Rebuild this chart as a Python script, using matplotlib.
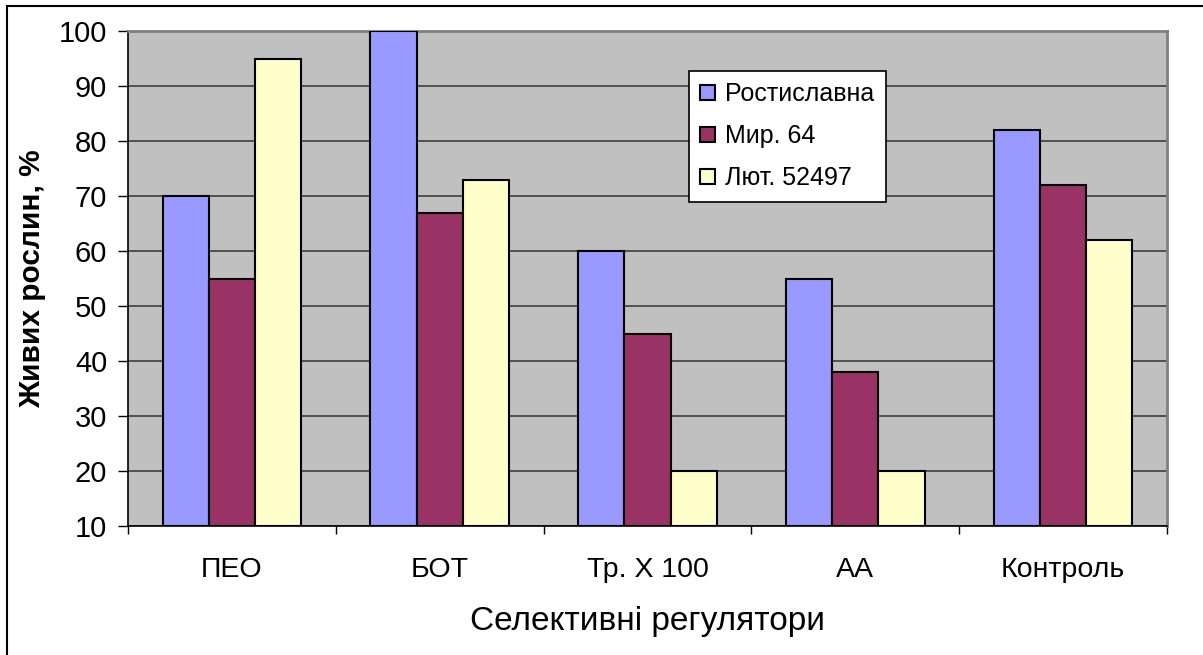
import numpy as np
import matplotlib
matplotlib.use('Agg')
from matplotlib import pyplot as plt
from matplotlib.patches import Rectangle

plt.rcParams['font.family'] = ['Liberation Sans', 'DejaVu Sans']

categories = ['ПЕО', 'БОТ', 'Тр. X 100', 'АА', 'Контроль']
series_names = ['Ростиславна', 'Мир. 64', 'Лют. 52497']
rostyslavna = [70, 100, 60, 55, 82]
myr64 = [55, 67, 45, 38, 72]
liut52497 = [95, 73, 20, 20, 62]
colors = ['#9999FF', '#993366', '#FFFFCC']

W, H = 1203, 655
fig = plt.figure(figsize=(W / 100, H / 100), dpi=100)
# рамка області діаграми
fig.patches.append(Rectangle((7 / W, -0.1), 1.2, 1 - 6 / H + 0.1, transform=fig.transFigure,
                             fill=False, edgecolor='black', linewidth=1.5))

ax = fig.add_axes([128 / W, 1 - 526 / H, (1167 - 128) / W, (526 - 31) / H])
ax.set_facecolor('#C0C0C0')

x = np.arange(len(categories))
w = 1 / 4.5
for i, vals in enumerate([rostyslavna, myr64, liut52497]):
    ax.bar(x + (i - 1) * w, np.array(vals) - 10, bottom=10, width=w, color=colors[i],
           edgecolor='black', linewidth=1.5, label=series_names[i], zorder=3)

ax.set_xlim(-0.5, len(categories) - 0.5)
ax.set_ylim(10, 100)
ax.set_yticks(range(10, 101, 10))
ax.yaxis.grid(True, color='#333333', linewidth=1.1, zorder=1)
ax.set_axisbelow(True)

ax.set_xticks(x)
ax.set_xticklabels(categories)
ax.set_xticks(np.arange(-0.5, len(categories), 1), minor=True)
ax.tick_params(axis='x', which='major', length=0, labelsize=20.5, pad=22)
ax.tick_params(axis='x', which='minor', length=6, width=1, color='black')
ax.tick_params(axis='y', length=7, width=1, labelsize=21, pad=8)

for s in ['top', 'right']:
    ax.spines[s].set_color('#808080')
    ax.spines[s].set_linewidth(2)
for s in ['left', 'bottom']:
    ax.spines[s].set_color('black')
    ax.spines[s].set_linewidth(1.2)

ax.set_xlabel('Селективні регулятори', fontsize=24)
ax.xaxis.set_label_coords(0.5, -0.162)
ax.set_ylabel('Живих рослин, %', fontsize=21.5, fontweight='bold')
ax.yaxis.set_label_coords(-0.079, 0.5)

leg = ax.legend(loc='upper left', bbox_to_anchor=(689 / W, 1 - 71 / H), bbox_transform=fig.transFigure,
                fontsize=18, frameon=True, fancybox=False, edgecolor='black',
                handlelength=0.6, handleheight=0.6, handletextpad=0.4, labelspacing=0.72,
                borderpad=0.45, borderaxespad=0)
leg.get_frame().set_linewidth(1.2)
leg.get_frame().set_alpha(1)

fig.savefig('out.png', dpi=100)
